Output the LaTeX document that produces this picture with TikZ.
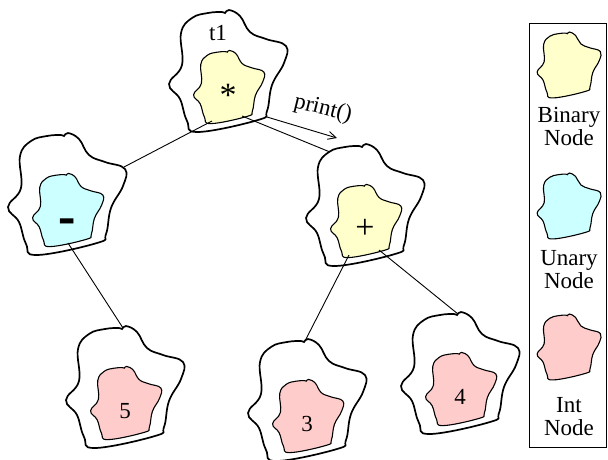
\documentclass[tikz,border=0pt]{standalone}
\usepackage{fontspec}
\setmainfont{Liberation Serif}
\usetikzlibrary{arrows.meta}

\definecolor{binfill}{HTML}{FFFFCC}
\definecolor{unfill}{HTML}{CCFFFF}
\definecolor{intfill}{HTML}{FFCCCC}

\tikzset{
  outerblob/.style={line width=1.7pt},
  innerblob/.style={line width=1.1pt},
  edge/.style={line width=0.9pt},
  lbl/.style={inner sep=0pt, font=\fontsize{23}{23}\selectfont},
}

% the wobbly outline shared by every blob
\newcommand{\blobshape}{plot[smooth cycle, tension=0.7] coordinates {
  (-6,-59) (-3,-58) (1,-61) (12,-55) (22,-39) (38,-32) (58,-25)
  (56,-8) (44,14) (39,40) (30,49) (-30,61) (-41,50) (-48,28)
  (-59,13) (-46,-6) (-47,-38) (-36,-53) (-20,-58)}}

% #1 name, #2 centre, #3 fill, #4 text
\newcommand{\treeblob}[4]{%
  \begin{scope}[shift={#2}]
    \draw[outerblob] \blobshape;
    \draw[innerblob, fill=#3, shift={(1,16)}, scale=0.6] \blobshape;
    \node[lbl] (#1) at (0,24) {#4};
    \coordinate (#1-n) at (-2,-59);
    \coordinate (#1-ne) at (57,-27);
    \coordinate (#1-nw) at (-35,-53);
    \coordinate (#1-sw) at (-16,50);
    \coordinate (#1-s) at (1,49);
    \coordinate (#1-se) at (14,45);
  \end{scope}}

\begin{document}
\begin{tikzpicture}[x=1pt, y=-1pt]
  \useasboundingbox (0,0) rectangle (608,459);

  \treeblob{t1}{(228,71)}{binfill}{\fontsize{34}{34}\selectfont *}
  \treeblob{neg}{(67,194)}{unfill}{\fontsize{40}{40}\selectfont\bfseries\rule{0pt}{34pt}\scalebox{1.3}[1.5]{-}}
  \treeblob{add}{(365,205)}{binfill}{\fontsize{34}{34}\selectfont +}
  \treeblob{five}{(125,387)}{intfill}{5}
  \treeblob{three}{(307,400)}{intfill}{3}
  \treeblob{four}{(460,373)}{intfill}{4}
  \node[lbl] (t1name) at (218,33) {t1};

  \draw[edge] (t1-sw) -- (neg-ne);
  \draw[edge] (t1-se) -- (add-nw);
  \draw[edge] (neg-s) -- (five-n);
  \draw[edge] (add-sw) -- (three-n);
  \draw[edge] (add-se) -- (four-n);

  \coordinate (callstart) at (267,117);
  \coordinate (callend) at (337,138);
  \draw[edge, -{Straight Barb[length=8pt, width=8pt]}] (callstart) -- (callend);
  \node[lbl, rotate=-14] (call) at (323,109) {print()};

  % legend
  \draw[line width=0.8pt] (529,23) rectangle (606,447);
  \draw[innerblob, fill=binfill, shift={(569,65)}, scale=0.54] \blobshape;
  \draw[innerblob, fill=unfill, shift={(569,206)}, scale=0.54] \blobshape;
  \draw[innerblob, fill=intfill, shift={(569,347)}, scale=0.54] \blobshape;
  \node[lbl, anchor=north, align=center] (binkey) at (569,107) {Binary\\Node};
  \node[lbl, anchor=north, align=center] (unkey) at (569,250) {Unary\\Node};
  \node[lbl, anchor=north, align=center] (intkey) at (569,397) {Int\\Node};
\end{tikzpicture}
\end{document}
